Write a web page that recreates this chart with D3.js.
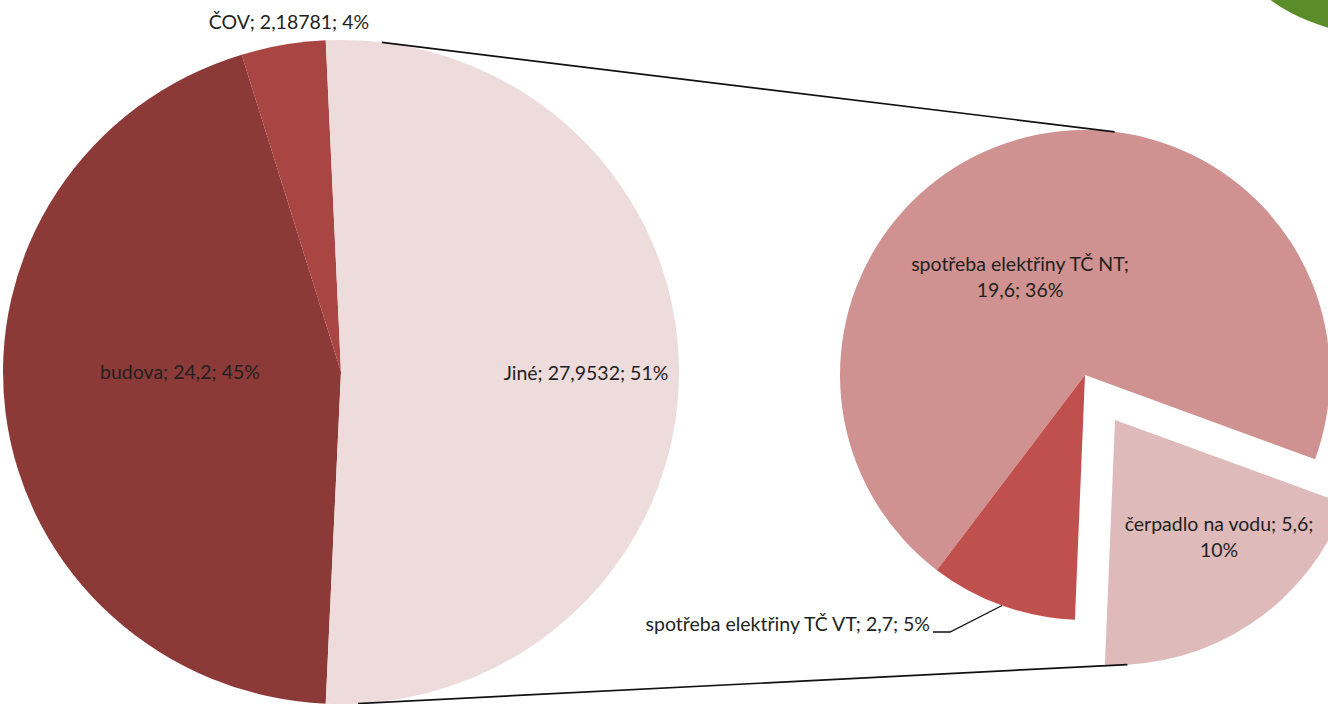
<!DOCTYPE html>
<html>
<head>
<meta charset="utf-8">
<script src="https://cdn.jsdelivr.net/npm/d3@7"></script>
<style>
  html, body { margin: 0; padding: 0; background: #ffffff; overflow: hidden; }
  svg { display: block; }
  text { font-family: Lato, "Open Sans", sans-serif; fill: #231f20; }
</style>
</head>
<body>
<svg id="chart" width="1328" height="704"></svg>
<script>
// Primary pie: consumption split
const mainCategories = ["budova", "ČOV", "Jiné"];
const mainValues = [24.2, 2.18781, 27.9532];
const mainColors = ["#8c3a37", "#a94543", "#eedcdc"];

// Secondary pie: breakdown of "Jiné"
const subCategories = ["spotřeba elektřiny TČ NT", "čerpadlo na vodu", "spotřeba elektřiny TČ VT"];
const subValues = [19.6, 5.6, 2.7];
const subColors = ["#d09291", "#dfbaba", "#c0504d"];

const svg = d3.select("#chart");
const deg = Math.PI / 180;

// Geometry (primary pie is slightly wider than tall)
const main = { cx: 341, cy: 372, rx: 338, ry: 332 };
const sub = { cx: 1085, cy: 375, r: 245 };
const subStart = 217.2 * deg;   // where the first secondary slice begins
const explodeIndex = 1;         // "čerpadlo na vodu" is pulled out
const explodeDist = 54;

const total = d3.sum(mainValues);
const fmtNum = v => String(v).replace(".", ",");
const fmtPct = v => Math.round(v / total * 100) + "%";

// Primary pie: "Jiné" centred on the right-hand side (3 o'clock)
const otherIdx = mainValues.length - 1;
const otherSpan = mainValues[otherIdx] / total * 2 * Math.PI;
const mainStart = Math.PI / 2 + otherSpan / 2;
const mainPie = d3.pie().sort(null).value(d => d)
  .startAngle(mainStart).endAngle(mainStart + 2 * Math.PI);
const mainArcs = mainPie(mainValues);

const subPie = d3.pie().sort(null).value(d => d)
  .startAngle(subStart).endAngle(subStart + 2 * Math.PI);
const subArcs = subPie(subValues);

const mainArc = d3.arc().innerRadius(0).outerRadius(main.ry);
const subArc = d3.arc().innerRadius(0).outerRadius(sub.r);

// Centre of the exploded slice
const ex = subArcs[explodeIndex];
const exMid = (ex.startAngle + ex.endAngle) / 2;
const exC = { x: sub.cx + explodeDist * Math.sin(exMid), y: sub.cy - explodeDist * Math.cos(exMid), r: sub.r };

// Common external tangent between the primary pie and a circle (side = -1 top, +1 bottom)
function tangent(b, side) {
  const a = { x: main.cx, y: main.cy, r: main.ry };
  const dx = b.x - a.x, dy = b.y - a.y, D = Math.hypot(dx, dy);
  const phi = Math.atan2(dy, dx);
  const alpha = Math.acos((a.r - b.r) / D);
  const t = phi + side * alpha;
  const n = [Math.cos(t), Math.sin(t)];
  return [[a.x + main.rx * n[0], a.y + a.r * n[1]], [b.x + b.r * n[0], b.y + b.r * n[1]]];
}
const topLine = tangent({ x: sub.cx, y: sub.cy, r: sub.r }, -1);
const botLine = tangent(exC, 1);

// Green corner mark
svg.append("circle").attr("cx", 1380).attr("cy", -154).attr("r", 189).attr("fill", "#5b8c2a");

// Primary pie slices
svg.append("g")
  .attr("transform", `translate(${main.cx},${main.cy}) scale(${main.rx / main.ry},1)`)
  .selectAll("path").data(mainArcs).join("path")
  .attr("d", mainArc)
  .attr("fill", (d, i) => mainColors[i]);

// Secondary pie slices
svg.append("g").attr("transform", `translate(${sub.cx},${sub.cy})`)
  .selectAll("path").data(subArcs).join("path")
  .attr("d", subArc)
  .attr("fill", (d, i) => subColors[i])
  .attr("transform", (d, i) => {
    if (i !== explodeIndex) return null;
    return `translate(${exC.x - sub.cx},${exC.y - sub.cy})`;
  });

// Connector lines between the two pies
const lines = svg.append("g");
[topLine, botLine].forEach(l => {
  lines.append("line")
    .attr("x1", l[0][0]).attr("y1", l[0][1])
    .attr("x2", l[1][0]).attr("y2", l[1][1])
    .attr("stroke", "#111").attr("stroke-width", 1.7);
});

// Labels
const labelSize = 19.5;
const lineGap = 26;
function label(lines, x, y, anchor) {
  const t = svg.append("text")
    .attr("x", x).attr("y", y)
    .attr("text-anchor", anchor || "middle")
    .style("font-size", labelSize + "px");
  lines.forEach((s, k) => {
    t.append("tspan").attr("x", x).attr("dy", k === 0 ? 0 : lineGap).text(s);
  });
  return t;
}
const mainText = i => `${mainCategories[i]}; ${fmtNum(mainValues[i])}; ${fmtPct(mainValues[i])}`;

// budova, inside left
label([mainText(0)], main.cx - 161, main.cy + 7);
// ČOV, outside above its slice
label([mainText(1)], main.cx - 52, 29);
// Jiné, inside right
label([mainText(2)], main.cx + 245, main.cy + 8);

// Secondary labels
label([`${subCategories[0]};`, `${fmtNum(subValues[0])}; ${fmtPct(subValues[0])}`], sub.cx - 65, sub.cy - 104);
label([`${subCategories[1]}; ${fmtNum(subValues[1])};`, `${fmtPct(subValues[1])}`], exC.x + 104, exC.y + 111);

// TČ VT: label outside with leader line to the slice edge
const vt = subArcs[2];
const vtMid = (vt.startAngle + vt.endAngle) / 2;
const edge = [sub.cx + sub.r * Math.sin(vtMid), sub.cy - sub.r * Math.cos(vtMid)];
const vtLabelEnd = [930, 631];
svg.append("polyline")
  .attr("points", [[vtLabelEnd[0] + 3, vtLabelEnd[1] + 1], [vtLabelEnd[0] + 20, vtLabelEnd[1] + 1], edge].map(p => p.join(",")).join(" "))
  .attr("fill", "none").attr("stroke", "#111").attr("stroke-width", 1.3);
label([`${subCategories[2]}; ${fmtNum(subValues[2])}; ${fmtPct(subValues[2])}`], vtLabelEnd[0], vtLabelEnd[1], "end");
</script>
</body>
</html>
